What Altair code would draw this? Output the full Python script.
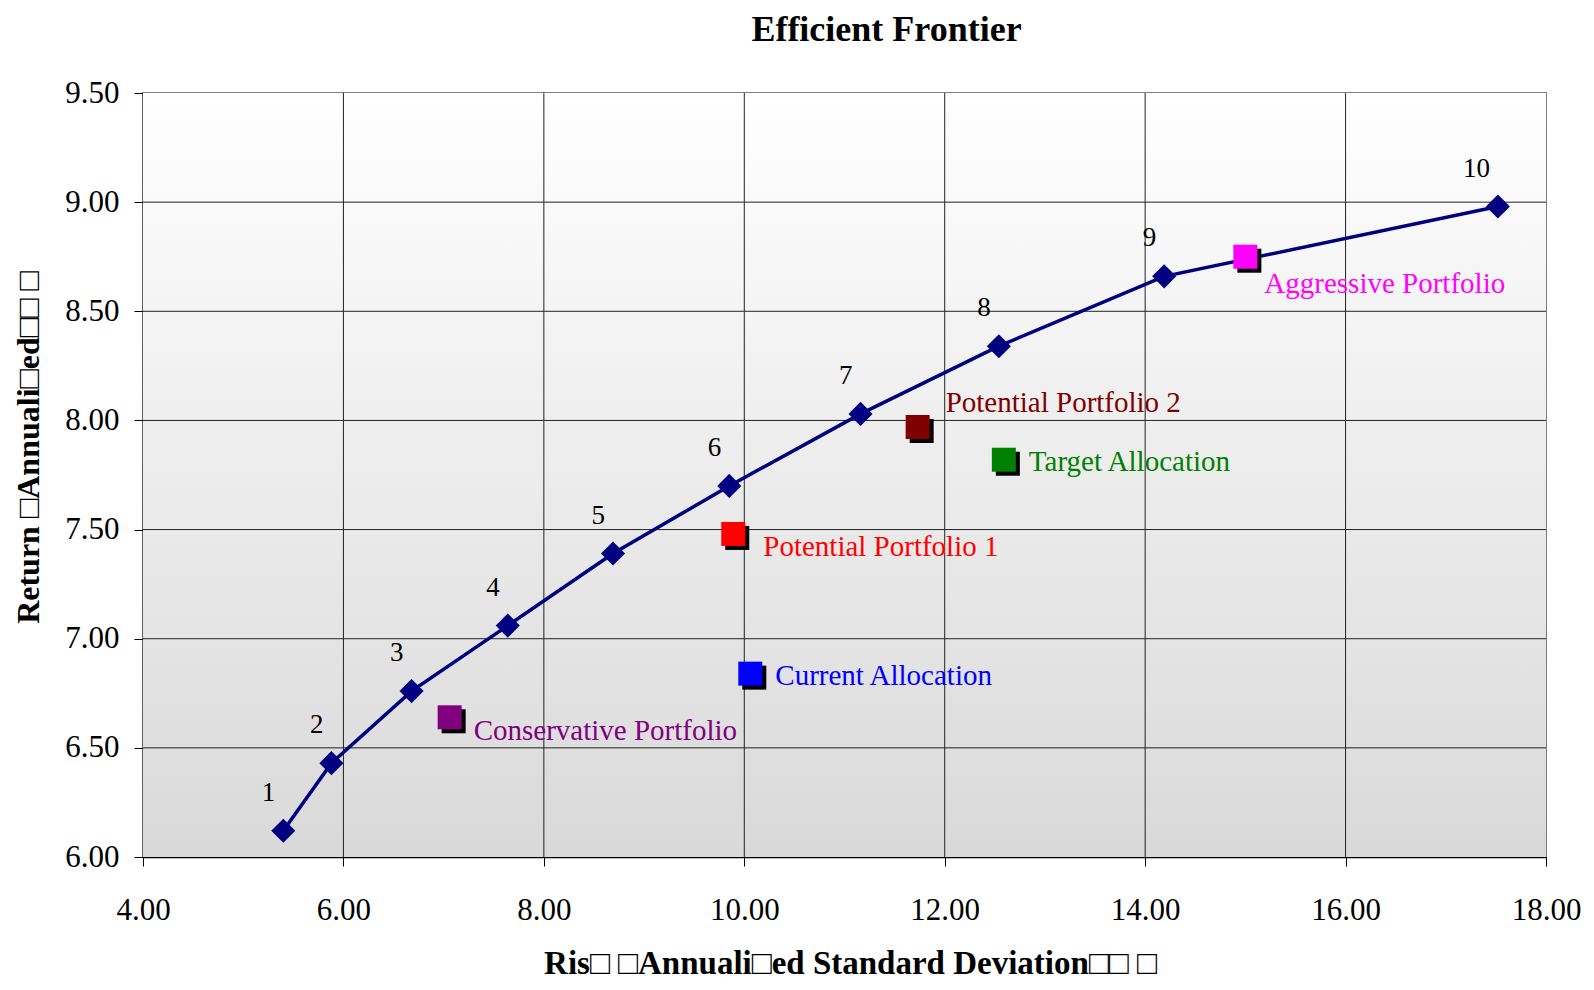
import altair as alt
import pandas as pd

# ---------------- data ----------------
x_ticks = [4.0, 6.0, 8.0, 10.0, 12.0, 14.0, 16.0, 18.0]
y_ticks = [6.0, 6.5, 7.0, 7.5, 8.0, 8.5, 9.0, 9.5]

frontier_id = [1, 2, 3, 4, 5, 6, 7, 8, 9, 10]
frontier_risk = [5.40, 5.88, 6.68, 7.64, 8.69, 9.85, 11.16, 12.54, 14.19, 17.52]
frontier_return = [6.12, 6.43, 6.76, 7.06, 7.39, 7.70, 8.03, 8.34, 8.66, 8.98]

portfolio_names = ["Conservative Portfolio", "Current Allocation", "Potential Portfolio 1",
                   "Potential Portfolio 2", "Target Allocation", "Aggressive Portfolio"]
portfolio_risk = [7.06, 10.06, 9.89, 11.73, 12.59, 15.00]
portfolio_return = [6.64, 6.84, 7.48, 7.97, 7.82, 8.75]
portfolio_colors = ["#800080", "#0000FF", "#FF0000", "#800000", "#008000", "#FF00FF"]

title_text = "Efficient Frontier"
x_title = "Ris\u25a1 \u25a1Annuali\u25a1ed Standard Deviation\u25a1\u25a1 \u25a1"
y_title = "Return \u25a1Annuali\u25a1ed\u25a1\u25a1 \u25a1"

# ---------------- tables ----------------
frontier = pd.DataFrame({"id": frontier_id, "risk": frontier_risk, "ret": frontier_return})
portfolios = pd.DataFrame({"name": portfolio_names, "risk": portfolio_risk, "ret": portfolio_return})
bg = pd.DataFrame({"x": [x_ticks[0]], "x2": [x_ticks[-1]], "y": [y_ticks[0]], "y2": [y_ticks[-1]]})
vgrid = pd.DataFrame({"v": x_ticks[1:-1]})
hgrid = pd.DataFrame({"v": y_ticks[1:-1]})

FONT = "Liberation Serif"
W, H = 1403, 764

xscale = alt.Scale(domain=[x_ticks[0], x_ticks[-1]], nice=False, zero=False)
yscale = alt.Scale(domain=[y_ticks[0], y_ticks[-1]], nice=False, zero=False)

xaxis = alt.Axis(values=x_ticks, format=".2f", title=x_title, grid=False,
                 titleX=707, titleY=116, titleAlign="center", titleBaseline="alphabetic",
                 titleFontSize=33, labelPadding=29, labelFlush=False)
yaxis = alt.Axis(values=y_ticks, format=".2f", title=y_title, grid=False,
                 titleX=-105, titleY=354, titleAngle=270, titleAlign="center",
                 titleBaseline="alphabetic", titleFontSize=32,
                 labelPadding=15, labelFlush=False)

X = alt.X("risk:Q", scale=xscale, axis=xaxis)
Y = alt.Y("ret:Q", scale=yscale, axis=yaxis)

background = alt.Chart(bg).mark_rect(
    color=alt.LinearGradient(
        gradient="linear",
        stops=[alt.GradientStop(color="#ffffff", offset=0),
               alt.GradientStop(color="#d9d9d9", offset=1)],
        x1=0, x2=0, y1=0, y2=1),
).encode(
    x=alt.X("x:Q", scale=xscale, axis=xaxis),
    x2="x2:Q",
    y=alt.Y("y:Q", scale=yscale, axis=yaxis),
    y2="y2:Q",
)

vlines = alt.Chart(vgrid).mark_rule(color="#222222", strokeWidth=1).encode(
    x=alt.X("v:Q", scale=xscale))
hlines = alt.Chart(hgrid).mark_rule(color="#222222", strokeWidth=1).encode(
    y=alt.Y("v:Q", scale=yscale))

line = alt.Chart(frontier).mark_line(color="#000080", strokeWidth=3.5,
                                     interpolate="linear").encode(x=X, y=Y)
diamonds = alt.Chart(frontier).mark_point(shape="diamond", filled=True, size=580,
                                          color="#000080", opacity=1).encode(x=X, y=Y)
numbers = alt.Chart(frontier).mark_text(font=FONT, fontSize=27, color="black",
                                        align="right", baseline="alphabetic",
                                        dx=-8, dy=-30).encode(x=X, y=Y, text="id:N")

color_scale = alt.Scale(domain=portfolio_names, range=portfolio_colors)
shadows = alt.Chart(portfolios).mark_square(size=576, color="black", opacity=1,
                                            xOffset=4, yOffset=4).encode(x=X, y=Y)
squares = alt.Chart(portfolios).mark_square(size=576, opacity=1).encode(
    x=X, y=Y, color=alt.Color("name:N", scale=color_scale, legend=None))

label_offsets = {
    "Conservative Portfolio": (24, 23),
    "Current Allocation": (25, 11),
    "Potential Portfolio 1": (30, 22),
    "Potential Portfolio 2": (28, -15),
    "Target Allocation": (25, 11),
    "Aggressive Portfolio": (19, 36),
}
label_layers = []
for name, col in zip(portfolio_names, portfolio_colors):
    ddx, ddy = label_offsets[name]
    label_layers.append(
        alt.Chart(portfolios).transform_filter(alt.datum.name == name).mark_text(
            font=FONT, fontSize=29, color=col, align="left", baseline="alphabetic",
            dx=ddx, dy=ddy).encode(x=X, y=Y, text="name:N")
    )

chart = alt.layer(background, vlines, hlines, line, diamonds, numbers, shadows, squares,
                  *label_layers).properties(
    width=W, height=H,
    autosize=alt.AutoSizeParams(type="none"),
    padding={"left": 135, "top": 85, "right": 35, "bottom": 125},
    title=alt.TitleParams(title_text, font=FONT, fontSize=36, fontWeight="bold",
                          anchor="middle", dx=42, offset=0, frame="group",
                          baseline="alphabetic", color="black"),
).configure_view(
    stroke="#808080", strokeWidth=2
).configure_axis(
    zindex=1, domainColor="black", domainWidth=1.5, tickColor="black", tickSize=9,
    tickWidth=1, labelFont=FONT, labelFontSize=31, labelColor="black",
    titleFont=FONT, titleFontWeight="bold", titleColor="black",
)

chart.save("out.html", embed_options={"renderer": "svg", "actions": False})
